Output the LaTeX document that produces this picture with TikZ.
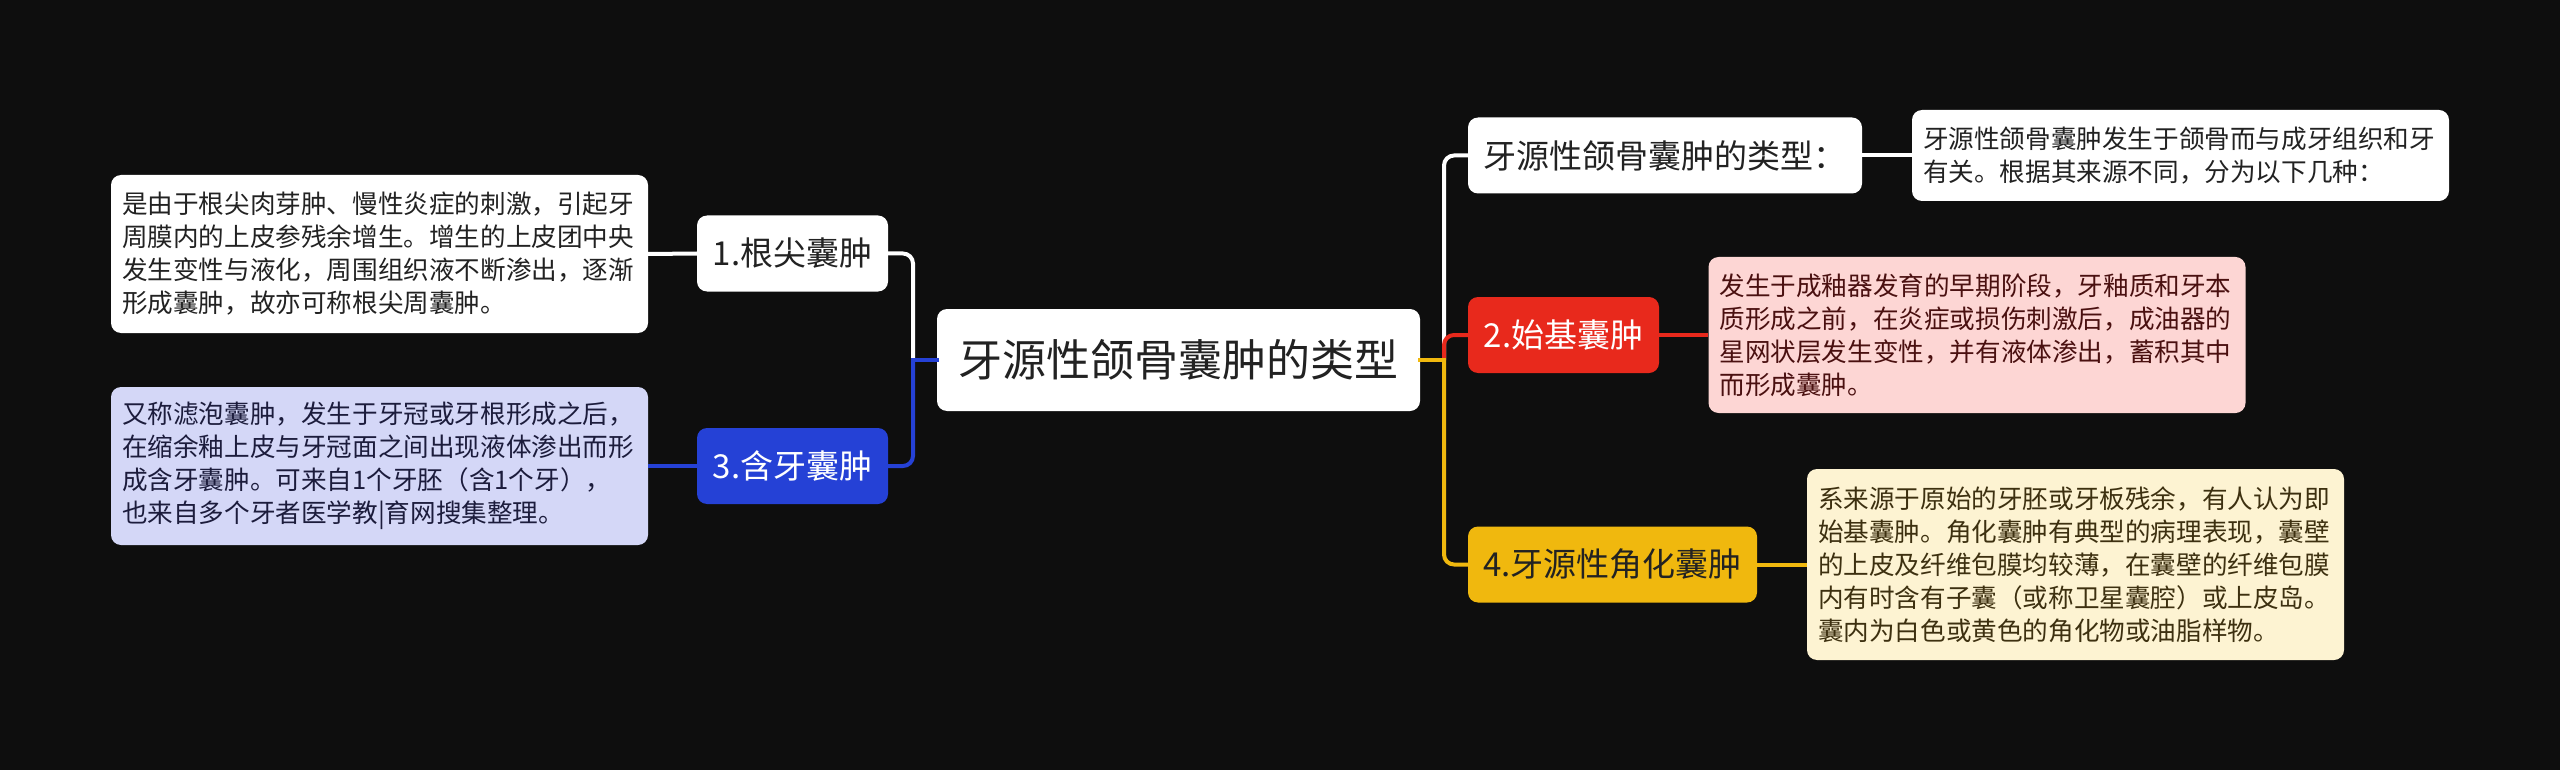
\documentclass[tikz,border=0pt]{standalone}
\usepackage{fontspec}
\setmainfont{Noto Sans CJK SC}
\definecolor{bg}{HTML}{0E0E0E}
\definecolor{cblue}{HTML}{2541D6}
\definecolor{cred}{HTML}{E8291C}
\definecolor{cyel}{HTML}{F0B80E}
\definecolor{clav}{HTML}{D4D7F7}
\definecolor{cpink}{HTML}{FDD6D4}
\definecolor{ccream}{HTML}{FDF3D2}
\definecolor{tdark}{HTML}{222222}
\definecolor{tnavy}{HTML}{1C1C3C}
\definecolor{tmaroon}{HTML}{4A1010}
\definecolor{tolive}{HTML}{3D3010}
\tikzset{
  box/.style={rounded corners=10pt, inner sep=0pt, align=center},
  topic/.style={box, font=\fontsize{33}{39}\selectfont, minimum height=76pt},
  desc/.style={box, align=left, inner xsep=11pt, text width=515pt,
    font=\fontsize{25.6}{33}\selectfont},
  conn/.style={line width=4pt},
}
\begin{document}
\begin{tikzpicture}[x=1pt,y=-1pt]
\fill[bg] (0,0) rectangle (2560,770);
\useasboundingbox (0,0) rectangle (2560,770);

% nodes
\node[box, fill=white, text=tdark, font=\fontsize{44}{50}\selectfont,
  minimum width=483pt, minimum height=102pt] (c) at (1178.5,360) {牙源性颌骨囊肿的类型};

\node[topic, fill=white, text=tdark, minimum width=191pt] (n1) at (792.5,253.5) {1.根尖囊肿};
\node[topic, fill=cblue, text=white, minimum width=191pt] (n3) at (792.5,466) {3.含牙囊肿};
\node[topic, fill=white, text=tdark, minimum width=394pt] (t0) at (1665,155.5) {牙源性颌骨囊肿的类型：};
\node[topic, fill=cred, text=white, minimum width=191pt] (n2) at (1563.5,335) {2.始基囊肿};
\node[topic, fill=cyel, text=tdark, minimum width=289pt] (n4) at (1612.5,564.5) {4.牙源性角化囊肿};

\node[desc, fill=white, text=tdark, minimum height=158pt] (d1) at (379.5,254) {是由于根尖肉芽肿、慢性炎症的刺激，引起牙\\周膜内的上皮参残余增生。增生的上皮团中央\\发生变性与液化，周围组织液不断渗出，逐渐\\形成囊肿，故亦可称根尖周囊肿。};
\node[desc, fill=clav, text=tnavy, minimum height=158pt] (d3) at (379.5,466) {又称滤泡囊肿，发生于牙冠或牙根形成之后，\\在缩余釉上皮与牙冠面之间出现液体渗出而形\\成含牙囊肿。可来自1个牙胚（含1个牙），\\也来自多个牙者医学教|育网搜集整理。};
\node[desc, fill=white, text=tdark, minimum height=91pt] (d0) at (2180.5,155.5) {牙源性颌骨囊肿发生于颌骨而与成牙组织和牙\\有关。根据其来源不同，分为以下几种：};
\node[desc, fill=cpink, text=tmaroon, minimum height=156pt] (d2) at (1977,335) {发生于成釉器发育的早期阶段，牙釉质和牙本\\质形成之前，在炎症或损伤刺激后，成油器的\\星网状层发生变性，并有液体渗出，蓄积其中\\而形成囊肿。};
\node[desc, fill=ccream, text=tolive, minimum height=191pt] (d4) at (2075.5,564.5) {系来源于原始的牙胚或牙板残余，有人认为即\\始基囊肿。角化囊肿有典型的病理表现，囊壁\\的上皮及纤维包膜均较薄，在囊壁的纤维包膜\\内有时含有子囊（或称卫星囊腔）或上皮岛。\\囊内为白色或黄色的角化物或油脂样物。};

% junctions
\coordinate (jL) at (913,360);
\coordinate (jR) at (1444,360);

% left branches
\draw[conn, white, rounded corners=10pt] (jL) |- (n1.east);
\draw[conn, cblue, rounded corners=10pt] (jL) |- (n3.east);
\draw[conn, cblue, line cap=rect] (c.west) -- (jL);
\draw[conn, white] (n1.west) -- (d1.east);
\draw[conn, cblue] (n3.west) -- (d3.east);

% right branches
\draw[conn, white, rounded corners=10pt] (jR) |- (t0.west);
\draw[conn, cred, rounded corners=10pt] (jR) |- (n2.west);
\draw[conn, cyel, rounded corners=10pt] (jR) |- (n4.west);
\draw[conn, cyel, line cap=rect] (c.east) -- (jR);
\draw[conn, white] (t0.east) -- (d0.west);
\draw[conn, cred] (n2.east) -- (d2.west);
\draw[conn, cyel] (n4.east) -- (d4.west);
\end{tikzpicture}
\end{document}
